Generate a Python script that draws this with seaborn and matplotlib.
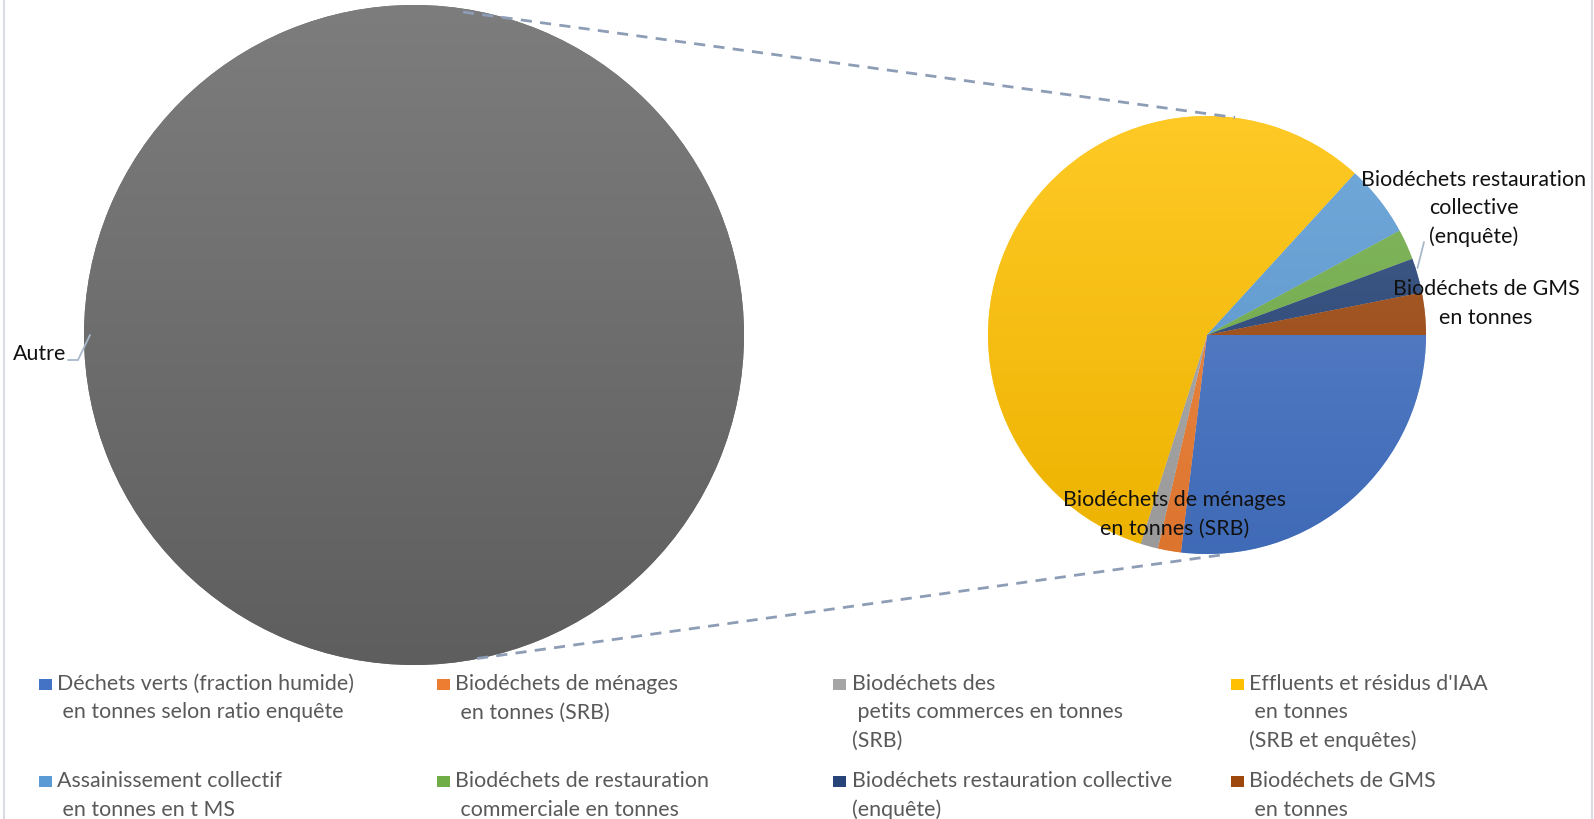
import numpy as np
import matplotlib
matplotlib.use("Agg")
import matplotlib.pyplot as plt
import matplotlib.colors as mcolors
import seaborn as sns

# Share of each biowaste stream (%), second pie; the first pie is all "Autre"
categories = [
    "Déchets verts (fraction humide)\n en tonnes selon ratio enquête",
    "Biodéchets de ménages\n en tonnes (SRB)",
    "Biodéchets des\n petits commerces en tonnes\n(SRB)",
    "Effluents et résidus d'IAA\n en tonnes\n(SRB et enquêtes)",
    "Assainissement collectif\n en tonnes en t MS",
    "Biodéchets de restauration\n commerciale en tonnes",
    "Biodéchets restauration collective\n(enquête)",
    "Biodéchets de GMS\n en tonnes",
]
shares = [26.9, 1.7, 1.3, 56.9, 5.3, 2.25, 2.55, 3.1]
colors = ["#4472C4", "#ED7D31", "#A5A5A5", "#FFC000",
          "#5B9BD5", "#70AD47", "#264478", "#9E480E"]
other_label = "Autre"
other_value = sum(shares)
other_color = "#6b6b6b"

# Data labels shown on the second pie: (category index, text)
pie_labels = [
    (6, "Biodéchets restauration\ncollective\n(enquête)"),
    (7, "Biodéchets de GMS\nen tonnes"),
    (1, "Biodéchets de ménages\nen tonnes (SRB)"),
]

sns.set_theme(style="white")
plt.rcParams["font.family"] = ["Lato", "DejaVu Sans"]

W, H = 1594, 819
fig = plt.figure(figsize=(W / 100, H / 100), dpi=100)
ax = fig.add_axes([0, 0, 1, 1])


def Y(y):
    return H - y


FS = 15.4
LINE = 28.5

# pie geometry (pixels)
big_c, big_r = (414, 335), 330
small_c, small_r = (1207, 335), 219


def gradient_wedges(wedges, cols, center, r, top_mix=0.15, bot_mix=0.07):
    t = np.linspace(0, 1, 256)[:, None, None]
    for w, c in zip(wedges, cols):
        base = np.array(mcolors.to_rgb(c))
        top = base + (1 - base) * top_mix
        bot = base * (1 - bot_mix)
        img = top * (1 - t) + bot * t
        im = ax.imshow(img, extent=(center[0] - r, center[0] + r,
                                    Y(center[1]) - r, Y(center[1]) + r),
                       origin="upper", aspect="auto", zorder=2,
                       interpolation="bilinear")
        im.set_clip_path(w)


# first pie
w_big, _ = ax.pie([other_value], colors=[other_color],
                  center=(big_c[0], Y(big_c[1])), radius=big_r,
                  startangle=90, frame=True,
                  wedgeprops=dict(linewidth=0))
gradient_wedges(w_big, [other_color], big_c, big_r,
                top_mix=0.12, bot_mix=0.12)

# second pie, clockwise from 3 o'clock
w_small, _ = ax.pie(shares, colors=colors,
                    center=(small_c[0], Y(small_c[1])), radius=small_r,
                    startangle=0, counterclock=False, frame=True,
                    wedgeprops=dict(linewidth=0.6, edgecolor="#ffffff80"))
gradient_wedges(w_small, colors, small_c, small_r)

# connector lines between the two pies
conn_col = "#8d9db6"
ax.plot([463, 1235], [Y(12), Y(117.5)], ls=(0, (4, 3)), lw=2,
        color=conn_col, zorder=4)
ax.plot([477, 1228], [Y(658.5), Y(554)], ls=(0, (4, 3)), lw=2,
        color=conn_col, zorder=4)

lead_col = "#a9b7ca"
# "Autre" label and its leader line
ax.text(13, Y(360), other_label, fontsize=FS, color="#111111",
        ha="left", va="baseline", zorder=5)
ax.plot([68, 78, 90], [Y(360), Y(360), Y(335)], color=lead_col, lw=1.3,
        zorder=5)

# data labels on the second pie
label_pos = {6: (1474, 186), 7: (1486, 295), 1: (1175, 506)}
for idx, txt in pie_labels:
    x0, y0 = label_pos[idx]
    for i, line in enumerate(txt.split("\n")):
        ax.text(x0, Y(y0 + i * LINE), line, fontsize=FS, color="#111111",
                ha="center", va="baseline", zorder=5)
ax.plot([1424, 1417.5], [Y(242), Y(268)], color=lead_col, lw=1.3, zorder=5)

# legend: 4 columns x 2 rows
col_marker_x = [39, 437, 833, 1231]
col_text_x = [57.5, 455.5, 852, 1249]
row_base_y = [690, 787]
for k, (lab, c) in enumerate(zip(categories, colors)):
    row, col = divmod(k, 4)
    yb = row_base_y[row]
    ax.add_patch(plt.Rectangle((col_marker_x[col], Y(yb)), 13, 11.5,
                               facecolor=c, edgecolor="none", zorder=5))
    for i, line in enumerate(lab.split("\n")):
        ax.text(col_text_x[col], Y(yb + i * LINE), line, fontsize=FS,
                color="#595959", ha="left", va="baseline", zorder=5)

# chart area border
ax.plot([4, 4], [0, H], color="#d9dde3", lw=1.5, zorder=6)
ax.plot([1592, 1592], [0, H], color="#d9dde3", lw=1.5, zorder=6)

ax.set_aspect("auto")
ax.set_xlim(0, W)
ax.set_ylim(0, H)
ax.axis("off")

fig.savefig("out.png", dpi=100, facecolor="white")
